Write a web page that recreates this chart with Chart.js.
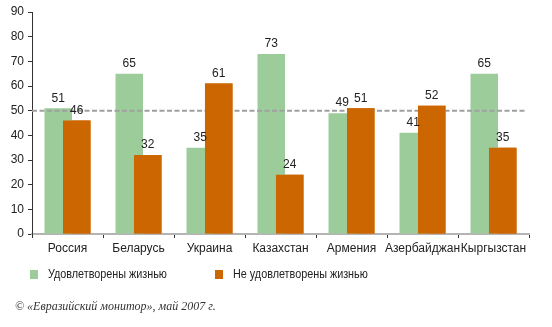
<!DOCTYPE html>
<html>
<head>
<meta charset="utf-8">
<script src="https://cdn.jsdelivr.net/npm/chart.js@4"></script>
<style>
  body { margin: 0; background: #fff; }
  #wrap { position: relative; width: 552px; height: 327px; }
  .legend-item { position: absolute; top: 267px; font: 12px "Liberation Sans", Arial, sans-serif; color: #222; white-space: nowrap; }
  .legend-box { display: inline-block; width: 8px; height: 9px; vertical-align: -1px; margin-right: 10px; }
  .legend-text { display: inline-block; transform: scaleX(0.9); transform-origin: left center; }
  #source { position: absolute; left: 15px; top: 299px; font: italic 12px "Liberation Serif", serif; color: #333; white-space: nowrap; }
</style>
</head>
<body>
<div id="wrap">
  <canvas id="chart" width="552" height="327"></canvas>
  <div class="legend-item" style="left:30px"><span class="legend-box" style="background:#9ccc9a"></span><span class="legend-text">Удовлетворены жизнью</span></div>
  <div class="legend-item" style="left:215px"><span class="legend-box" style="background:#cc6600"></span><span class="legend-text">Не удовлетворены жизнью</span></div>
  <div id="source">© «Евразийский монитор», май 2007 г.</div>
</div>
<script>
let countries = ["Россия", "Беларусь", "Украина", "Казахстан", "Армения", "Азербайджан", "Кыргызстан"];
let satisfied = [51, 65, 35, 73, 49, 41, 65];
let notSatisfied = [46, 32, 61, 24, 51, 52, 35];
let referenceLevel = 50;

const labelFont = '"Liberation Sans", Arial, sans-serif';

// value labels, dashed 50% line, then orange bars again so they sit on top
const overlayPlugin = {
  id: "overlay",
  afterDatasetsDraw(chart) {
    let ctx = chart.ctx;
    let y = chart.scales.y.getPixelForValue(referenceLevel);
    ctx.save();
    ctx.strokeStyle = "#a0a0a0";
    ctx.lineWidth = 2;
    ctx.setLineDash([5, 2.5]);
    ctx.beginPath();
    ctx.moveTo(chart.chartArea.left, y);
    ctx.lineTo(chart.chartArea.right - 2, y);
    ctx.stroke();
    ctx.restore();

    chart.getDatasetMeta(1).controller.draw();

    ctx.save();
    ctx.font = "12px " + labelFont;
    ctx.fillStyle = "#222";
    ctx.textAlign = "center";
    ctx.textBaseline = "bottom";
    chart.data.datasets.forEach((ds, di) => {
      chart.getDatasetMeta(di).data.forEach((bar, i) => {
        ctx.fillText(ds.data[i], bar.x, bar.y - 4);
      });
    });
    ctx.restore();
  }
};

let ctx = document.getElementById("chart").getContext("2d");
new Chart(ctx, {
  type: "bar",
  data: {
    labels: countries,
    datasets: [
      { label: "Удовлетворены жизнью", data: satisfied, backgroundColor: "#9ccc9a" },
      { label: "Не удовлетворены жизнью", data: notSatisfied, backgroundColor: "#cc6600" }
    ]
  },
  options: {
    responsive: false,
    animation: false,
    events: [],
    categoryPercentage: 0.52,
    barPercentage: 1.49,
    layout: { padding: { top: 12, right: 23, bottom: 0, left: 0 } },
    plugins: {
      legend: { display: false },
      tooltip: { enabled: false }
    },
    scales: {
      x: {
        afterFit(scale) { scale.height = 93; },
        border: { color: "#b4b4b4", width: 2 },
        grid: { drawOnChartArea: false, offset: true, tickLength: 4, tickColor: "#333", tickWidth: 1 },
        ticks: { color: "#222", font: { size: 12, family: labelFont }, padding: 3, maxRotation: 0, autoSkip: false }
      },
      y: {
        min: 0,
        max: 90,
        afterFit(scale) { scale.width = 32; },
        border: { color: "#333", width: 1 },
        grid: { drawOnChartArea: false, tickLength: 4, color: "#333" },
        ticks: { stepSize: 10, color: "#222", font: { size: 12, family: labelFont }, padding: 4 }
      }
    }
  },
  plugins: [overlayPlugin]
});
</script>
</body>
</html>
